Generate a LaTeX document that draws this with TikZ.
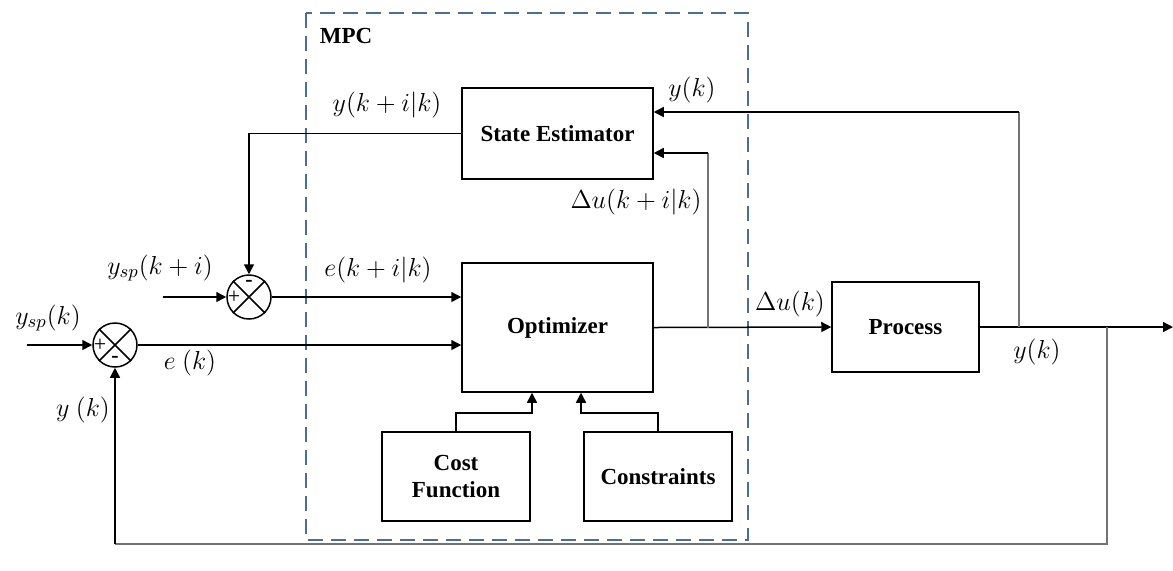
\documentclass[tikz,border=0pt]{standalone}
\usepackage{fix-cm}
\usepackage{fontspec}
\setmainfont{Liberation Serif}
\usetikzlibrary{arrows.meta,calc}
\definecolor{mpcblue}{RGB}{74,112,145}
\begin{document}
\begin{tikzpicture}[x=0.5pt,y=-0.5pt,
  blk/.style={draw,line width=0.75pt,inner sep=0pt,font=\fontsize{11.5}{13.5}\selectfont\bfseries,align=center},
  sumj/.style={draw,circle,line width=0.75pt,minimum size=22pt,inner sep=0pt},
  ln/.style={line width=0.75pt},
  arr/.style={ln,-{Triangle[length=5pt,width=5pt]}},
  gln/.style={line width=0.75pt,black!55},
  lbl/.style={font=\fontsize{13}{15}\selectfont,inner sep=0pt},
  sgn/.style={font=\fontsize{11}{12}\selectfont,inner sep=0pt},
  mpcbox/.style={draw=mpcblue,line width=1pt,dash pattern=on 7.5pt off 4pt}]
\useasboundingbox (0,0) rectangle (1173,570);

% MPC dashed frame
\draw[mpcbox] (306,13) rectangle (748,540);
\node[font=\fontsize{11.5}{13}\selectfont\bfseries,inner sep=0pt] (mpcl) at (346,36) {MPC};

% blocks
\node[blk,minimum width=95.5pt,minimum height=45.5pt] (se) at (557.5,133.5) {State Estimator};
\node[blk,minimum width=95.5pt,minimum height=64.5pt] (opt) at (557.5,327.5) {Optimizer};
\node[blk,minimum width=74pt,minimum height=44.5pt] (cost) at (456,476.5) {Cost\\Function};
\node[blk,minimum width=74pt,minimum height=44.5pt] (cons) at (658,476.5) {Constraints};
\node[blk,minimum width=73.5pt,minimum height=45pt] (proc) at (905.5,327) {Process};

% summing junctions
\node[sumj] (s1) at (115,345) {};
\node[sumj] (s2) at (249,297) {};
\draw[ln] (s1.north west) -- (s1.south east) (s1.north east) -- (s1.south west);
\draw[ln] (s2.north west) -- (s2.south east) (s2.north east) -- (s2.south west);
\node[sgn] (s1p) at ($(s1)+(-15,0)$) {+};
\node[sgn] (s1m) at ($(s1)+(0,14)$) {\textbf{-}};
\node[sgn] (s2p) at ($(s2)+(-15,0)$) {+};
\node[sgn] (s2m) at ($(s2)+(0,-14)$) {\textbf{-}};

% inputs
\coordinate (in1) at (27,345);
\coordinate (in2) at (163,297);
\draw[arr] (in1) -- (s1.west);
\draw[arr] (in2) -- (s2.west);

% junctions to optimizer
\draw[arr] (s2.east) -- (s2.east -| opt.west);
\draw[arr] (s1.east) -- (s1.east -| opt.west);

% state estimator output to upper junction
\draw[arr] (se.west) -| (s2.north);

% optimizer to process
\draw[arr] (opt.east) -- (proc.west);

% delta u feedback to state estimator
\coordinate (du) at (708,327.5);
\coordinate (sein2) at ($(se.east)+(0,19.5)$);
\draw[gln] (du) -- (du |- sein2);
\draw[arr] (du |- sein2) -- (sein2);

% process output
\coordinate (out) at (1173,327);
\draw[arr] (proc.east) -- (out);

% y(k) to state estimator
\coordinate (t1) at (1019,327);
\coordinate (sein1) at ($(se.east)+(0,-21.5)$);
\draw[gln] (t1) -- (t1 |- sein1);
\draw[arr] (t1 |- sein1) -- (sein1);

% y(k) feedback to lower junction
\coordinate (t2) at (1107,327);
\coordinate (fb) at (1107,544);
\draw[gln] (t2) -- (fb) -- (fb -| s1.south);
\draw[arr] (fb -| s1.south) -- (s1.south);

% cost function and constraints to optimizer
\draw[arr] (cost.north) |- ($(opt.south)+(-25.5,20)$) -- ($(opt.south)+(-25.5,0)$);
\draw[arr] (cons.north) |- ($(opt.south)+(23.5,20)$) -- ($(opt.south)+(23.5,0)$);

% labels
\node[lbl] (l1) at (387,105) {$y(k+i|k)$};
\node[lbl] (l2) at (692,90) {$y(k)$};
\node[lbl] (l3) at (636,202) {$\Delta u(k+i|k)$};
\node[lbl] (l4) at (378,270) {$e(k+i|k)$};
\node[lbl] (l5) at (160,268) {$y_{sp}(k+i)$};
\node[lbl] (l6) at (48,318) {$y_{sp}(k)$};
\node[lbl] (l7) at (190,363) {$e\ (k)$};
\node[lbl] (l8) at (83,410) {$y\ (k)$};
\node[lbl] (l9) at (790,304) {$\Delta u(k)$};
\node[lbl] (l10) at (1037,352) {$y(k)$};
\end{tikzpicture}
\end{document}
